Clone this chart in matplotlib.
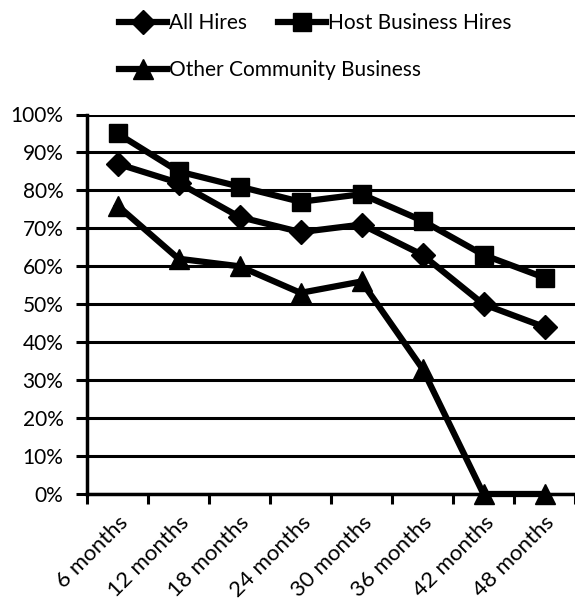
import matplotlib.pyplot as plt
from matplotlib.ticker import PercentFormatter

# Retention by time since hire
periods = ['6 months', '12 months', '18 months', '24 months',
           '30 months', '36 months', '42 months', '48 months']
all_hires = [87, 82, 73, 69, 71, 63, 50, 44]
host_hires = [95, 85, 81, 77, 79, 72, 63, 57]
other_hires = [76, 62, 60, 53, 56, 33, 0, 0]

plt.rcParams['font.family'] = ['Lato', 'DejaVu Sans']

fig = plt.figure(figsize=(5.75, 6.01), dpi=100)
ax = fig.add_axes([87 / 575, 1 - 494 / 601, 1 - 87 / 575, (494 - 114.5) / 601])

x = range(len(periods))
l1, = ax.plot(x, all_hires, color='black', lw=4.5, marker='D', ms=12, label='All Hires', zorder=4)
l2, = ax.plot(x, host_hires, color='black', lw=4.5, marker='s', ms=13.5, label='Host Business Hires', zorder=4)
l3, = ax.plot(x, other_hires, color='black', lw=4.5, marker='^', ms=14, label='Other Community Business',
              zorder=4, clip_on=False)

ax.set_xlim(-0.5, len(periods) - 0.5)
ax.set_ylim(0, 100)
ax.set_yticks(range(0, 101, 10))
ax.yaxis.set_major_formatter(PercentFormatter(decimals=0))
ax.grid(axis='y', color='black', lw=2.2)
ax.set_axisbelow(True)

# category ticks sit between the labels
ax.set_xticks([i - 0.5 for i in range(len(periods) + 1)], minor=False)
ax.set_xticklabels([])
ax.set_xticks(list(x), minor=True)
ax.set_xticklabels(periods, minor=True, rotation=45, ha='right', rotation_mode='anchor', fontsize=16)
ax.tick_params(axis='x', which='minor', length=0, pad=13)
ax.tick_params(axis='x', which='major', length=7, width=2.2, direction='out')
ax.tick_params(axis='y', length=8, width=2.2, labelsize=15, pad=9)

for side in ['top', 'right']:
    ax.spines[side].set_visible(False)
for side in ['left', 'bottom']:
    ax.spines[side].set_linewidth(2.5)

fig.legend(handles=[l1, l2], loc='center left', bbox_to_anchor=(119 / 575, 1 - 23 / 601),
           ncol=2, frameon=False, fontsize=15, handlelength=2.3, handletextpad=0.1,
           columnspacing=1.5, borderaxespad=0, borderpad=0)
fig.legend(handles=[l3], loc='center left', bbox_to_anchor=(119 / 575, 1 - 70 / 601),
           frameon=False, fontsize=15, handlelength=2.3, handletextpad=0.1,
           borderaxespad=0, borderpad=0)

fig.savefig('out.png', dpi=100)
